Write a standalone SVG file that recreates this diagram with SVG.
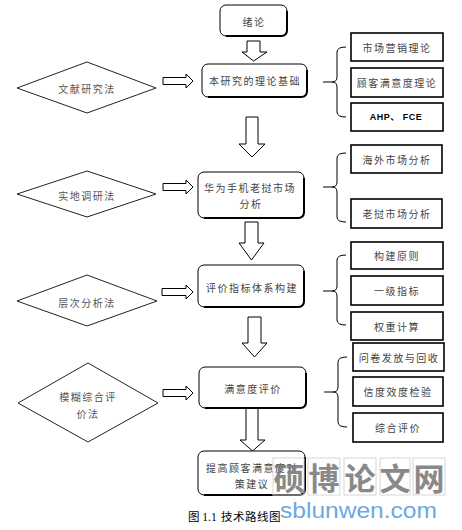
<svg xmlns="http://www.w3.org/2000/svg" width="462" height="530" viewBox="0 0 462 530">
<style>
.bg{fill:#fff}
.box{fill:#fff;stroke:#000;stroke-width:1}
.sh{fill:none;stroke:#000;stroke-width:2}
.rb{fill:#fff;stroke:#000;stroke-width:1.6}
.dia{fill:#fff;stroke:#222;stroke-width:1}
.arr{fill:#fff;stroke:#000;stroke-width:1}
.br{fill:none;stroke:#000;stroke-width:1}
.t{font-family:"Noto Sans CJK SC","Liberation Sans",sans-serif;font-size:10px;fill:#444;text-anchor:middle;dominant-baseline:central;letter-spacing:1.5px}
.td{font-family:"Noto Sans CJK SC","Liberation Sans",sans-serif;font-size:10px;fill:#555;text-anchor:middle;dominant-baseline:central;letter-spacing:1.5px}
.ta{font-family:"Liberation Sans","Noto Sans CJK SC",sans-serif;font-size:9px;font-weight:bold;fill:#000;text-anchor:middle;dominant-baseline:central;letter-spacing:0.5px}
.cap{font-family:"Liberation Serif","Noto Sans CJK SC",serif;font-size:11.5px;fill:#000}
.wm{font-family:"Noto Sans CJK SC",sans-serif;font-size:31px;font-weight:bold;fill:#7d7d7d;text-anchor:middle;dominant-baseline:central;opacity:0.9}
.wg{fill:none;stroke:#d6d6d6;stroke-width:1}
.wu{font-family:"Liberation Sans",sans-serif;font-size:22px;fill:#6ea8e2}
</style>
<rect class="bg" x="0" y="0" width="462" height="530"/>

<g id="connectors">
  <polygon class="arr" points="247,41 260,41 260,52 267,52 253.5,61 242,52 247,52"/>
  <polygon class="arr" points="246,117 258,117 258,144 265,144 252,157 239,144 246,144"/>
  <polygon class="arr" points="245,222 258,222 258,243 264,243 251.5,260 239,243 245,243"/>
  <polygon class="arr" points="248,317 261,317 261,343 267,343 254.5,357 242,343 248,343"/>
  <polygon class="arr" points="246,408 258,408 258,440 265,440 252.5,451 240,440 246,440"/>
  <polygon class="arr" points="163,77.5 186,77.5 186,74 193,81 186,88 186,84.5 163,84.5"/>
  <polygon class="arr" points="163,183.5 186,183.5 186,180 193,187 186,194 186,190.5 163,190.5"/>
  <polygon class="arr" points="162,288.5 186,288.5 186,285 193,292 186,299 186,295.5 162,295.5"/>
  <polygon class="arr" points="163,389.5 186,389.5 186,386 193,393 186,400 186,396.5 163,396.5"/>
  <path class="br" d="M346,47 Q337,47 337,52 V77 Q337,82 332,82 H323 M332,82 Q337,82 337,87 V112 Q337,117 346,117"/>
  <path class="br" d="M346,153 Q337,153 337,158 V182 Q337,187 332,187 H323 M332,187 Q337,187 337,192 V217 Q337,222 346,222"/>
  <path class="br" d="M346,255 Q337,255 337,260 V286 Q337,291 332,291 H323 M332,291 Q337,291 337,296 V320 Q337,325 346,325"/>
  <path class="br" d="M347,357 Q338,357 338,362 V387 Q338,392 333,392 H324 M333,392 Q338,392 338,397 V422 Q338,427 347,427"/>
</g>

<g id="n-xulun">
  <rect class="box" x="220" y="5" width="67" height="31" rx="6"/>
  <path class="sh" d="M287,11 V30 Q287,36 281,36 H226"/>
  <text class="t" x="254" y="21">绪论</text>
</g>
<g id="n-theory">
  <rect class="box" x="202" y="64" width="105" height="33" rx="6"/>
  <path class="sh" d="M307,70 V91 Q307,97 301,97 H208"/>
  <text class="t" x="255" y="80">本研究的理论基础</text>
</g>
<g id="n-market">
  <rect class="box" x="198" y="172" width="106" height="46" rx="6"/>
  <path class="sh" d="M304,178 V212 Q304,218 298,218 H204"/>
  <text class="t" x="250" y="187">华为手机老挝市场</text>
  <text class="t" x="251" y="203">分析</text>
</g>
<g id="n-index">
  <rect class="box" x="198" y="265" width="106" height="42" rx="6"/>
  <path class="sh" d="M304,271 V301 Q304,307 298,307 H204"/>
  <text class="t" x="252" y="287">评价指标体系构建</text>
</g>
<g id="n-eval">
  <rect class="box" x="199" y="367" width="107" height="41" rx="6"/>
  <path class="sh" d="M306,373 V402 Q306,408 300,408 H205"/>
  <text class="t" x="253" y="388">满意度评价</text>
</g>
<g id="n-suggest">
  <rect class="box" x="198" y="451" width="107" height="44" rx="6"/>
  <path class="sh" d="M305,457 V489 Q305,495 299,495 H204"/>
  <text class="t" x="252" y="467">提高顾客满意度对</text>
  <text class="t" x="252" y="483">策建议</text>
</g>

<g id="d-literature">
  <polygon class="dia" points="17,88 87,62 156,88 87,113"/>
  <text class="td" x="87" y="88">文献研究法</text>
</g>
<g id="d-field">
  <polygon class="dia" points="17,194 87,171 156,194 87,217"/>
  <text class="td" x="87" y="195">实地调研法</text>
</g>
<g id="d-ahp">
  <polygon class="dia" points="17,301 87,275 157,301 87,326"/>
  <text class="td" x="87" y="302">层次分析法</text>
</g>
<g id="d-fuzzy">
  <polygon class="dia" points="18,403 88,363 158,403 88,442"/>
  <text class="td" x="88" y="396">模糊综合评</text>
  <text class="td" x="88" y="413">价法</text>
</g>

<g id="r-marketing"><rect class="rb" x="351" y="33" width="92" height="28"/><text class="t" x="397" y="47">市场营销理论</text></g>
<g id="r-satisfaction"><rect class="rb" x="351" y="68" width="92" height="29"/><text class="t" x="397" y="82.5">顾客满意度理论</text></g>
<g id="r-ahpfce"><rect class="rb" x="351" y="103" width="92" height="28"/><text class="ta" x="396" y="117">AHP、 FCE</text></g>

<g id="r-overseas"><rect class="rb" x="351" y="145" width="91" height="28"/><text class="t" x="397" y="159">海外市场分析</text></g>
<g id="r-laos"><rect class="rb" x="351" y="199" width="91" height="29"/><text class="t" x="397" y="213.5">老挝市场分析</text></g>

<g id="r-principle"><rect class="rb" x="351" y="242" width="92" height="27"/><text class="t" x="397" y="255.5">构建原则</text></g>
<g id="r-level1"><rect class="rb" x="351" y="276" width="92" height="29"/><text class="t" x="397" y="290.5">一级指标</text></g>
<g id="r-weight"><rect class="rb" x="351" y="312" width="92" height="28"/><text class="t" x="397" y="326">权重计算</text></g>

<g id="r-survey"><rect class="rb" x="353" y="343" width="91" height="28"/><text class="t" x="399" y="357">问卷发放与回收</text></g>
<g id="r-reliability"><rect class="rb" x="353" y="377" width="90" height="29"/><text class="t" x="398" y="391.5">信度效度检验</text></g>
<g id="r-overall"><rect class="rb" x="353" y="413" width="90" height="29"/><text class="t" x="398" y="427.5">综合评价</text></g>

<text class="cap" y="521"><tspan x="188">图 1.1</tspan><tspan x="221" letter-spacing="0.5">技术路线图</tspan></text>

<g id="watermark">
  <rect class="wg" x="273" y="458" width="31" height="37"/>
  <rect class="wg" x="308" y="458" width="32" height="37"/>
  <rect class="wg" x="344" y="458" width="32" height="37"/>
  <rect class="wg" x="380" y="458" width="30" height="37"/>
  <rect class="wg" x="413" y="458" width="32" height="37"/>
  <text class="wm" x="289" y="476">硕</text>
  <text class="wm" x="324" y="476">博</text>
  <text class="wm" x="360" y="476">论</text>
  <text class="wm" x="395" y="476">文</text>
  <text class="wm" x="429" y="476">网</text>
  <text class="wu" x="280" y="518" textLength="157" lengthAdjust="spacingAndGlyphs">sblunwen.com</text>
</g>
</svg>
